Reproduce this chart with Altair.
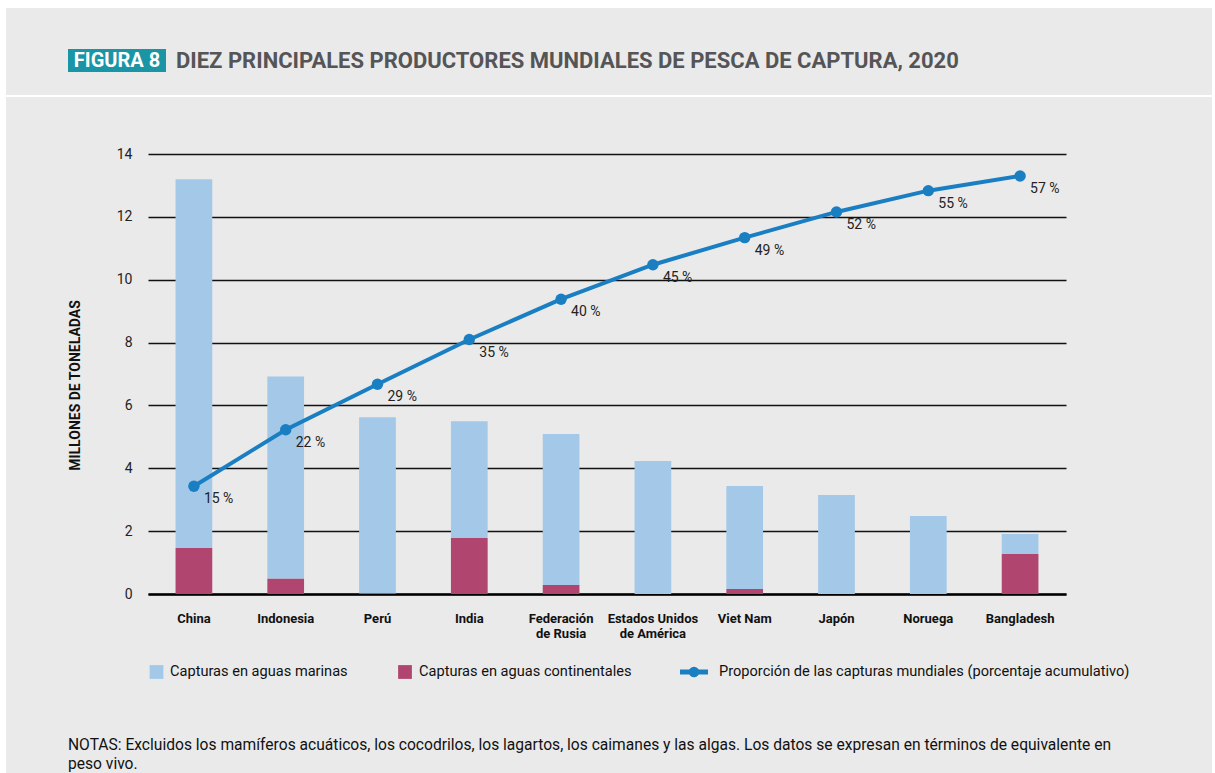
import altair as alt
import pandas as pd

# ---------------- data ----------------
countries = ["China", "Indonesia", "Perú", "India", "Federación de Rusia",
             "Estados Unidos de América", "Viet Nam", "Japón", "Noruega", "Bangladesh"]
marine = [11.74, 6.43, 5.60, 3.72, 4.80, 4.23, 3.28, 3.15, 2.48, 0.64]
inland = [1.46, 0.49, 0.02, 1.78, 0.29, 0.00, 0.16, 0.00, 0.00, 1.27]
share = [14.7, 22.4, 28.6, 34.7, 40.2, 44.9, 48.6, 52.1, 55.0, 57.0]

series_names = ["Capturas en aguas marinas", "Capturas en aguas continentales"]
line_name = "Proporción de las capturas mundiales (porcentaje acumulativo)"
left_ticks = [0, 2, 4, 6, 8, 10, 12, 14]
right_ticks = [0, 10, 20, 30, 40, 50, 60]

title_tag = "FIGURA 8"
title_text = "DIEZ PRINCIPALES PRODUCTORES MUNDIALES DE PESCA DE CAPTURA, 2020"
notes = ["NOTAS: Excluidos los mamíferos acuáticos, los cocodrilos, los lagartos, los caimanes y las algas. Los datos se expresan en términos de equivalente en",
         "peso vivo."]

# ---------------- styles ----------------
FONT = "Roboto"
C_MAR = "#a3c8e8"
C_INL = "#b0466f"
C_LINE = "#1a7fc2"
BG = "#eaeaea"
TEAL = "#1995a5"

rows = []
for c, m, i in zip(countries, marine, inland):
    rows.append({"pais": c, "tipo": series_names[1], "valor": i, "orden": 0})
    rows.append({"pais": c, "tipo": series_names[0], "valor": m, "orden": 1})
df_bars = pd.DataFrame(rows)
df_line = pd.DataFrame({"pais": countries, "pct": share})

one = alt.Data(values=[{"k": 1}])

x_enc = alt.X(
    "pais:N", sort=countries,
    scale=alt.Scale(paddingInner=0.6, paddingOuter=0.3),
    axis=alt.Axis(
        title=None, ticks=False, domain=True, domainColor="black", domainWidth=2.5,
        labelAngle=0, labelFont=FONT, labelFontSize=13, labelFontWeight="bold",
        labelColor="#111", labelPadding=18, labelLineHeight=15, labelLimit=200,
        labelOverlap=False,
        labelExpr="split(replace(datum.label, ' de ', '|de '), '|')",
    ),
)

bars = alt.Chart(df_bars).mark_bar().encode(
    x=x_enc,
    y=alt.Y(
        "valor:Q", stack="zero", scale=alt.Scale(domain=[0, 14]),
        axis=alt.Axis(
            values=left_ticks, grid=True, gridColor="#111", gridWidth=1.4,
            domain=False, ticks=False, labelPadding=16, labelFont=FONT,
            labelFontSize=14, labelColor="#222",
            title="MILLONES DE TONELADAS", titleFont=FONT, titleFontSize=14,
            titleFontWeight="bold", titleColor="#111", titleAngle=270,
            titleX=-73, titleY=231, titleAlign="center", titleBaseline="middle",
        ),
    ),
    color=alt.Color("tipo:N", scale=alt.Scale(domain=series_names, range=[C_MAR, C_INL]), legend=None),
    order=alt.Order("orden:Q", sort="ascending"),
)

y_pct = alt.Y(
    "pct:Q", scale=alt.Scale(domain=[0, 60]),
    axis=alt.Axis(
        orient="right", values=right_ticks, grid=False, domain=False, ticks=False,
        labelPadding=15, labelFont=FONT, labelFontSize=14, labelColor="#222",
        title="PORCENTAJE", titleFont=FONT, titleFontSize=14, titleFontWeight="bold",
        titleColor="#111", titleAngle=270, titleX=77, titleY=229,
        titleAlign="center", titleBaseline="middle",
    ),
)

base_line = alt.Chart(df_line)
line = base_line.mark_line(color=C_LINE, strokeWidth=4).encode(x=x_enc, y=y_pct)
pts = base_line.mark_circle(color=C_LINE, size=130, opacity=1).encode(x=x_enc, y=alt.Y("pct:Q", axis=None))
lbls = base_line.transform_calculate(
    lbl="format(datum.pct, '.0f') + ' %'"
).mark_text(
    font=FONT, fontSize=14, color="#222", align="left", baseline="middle", dx=10, dy=13
).encode(x=x_enc, y=alt.Y("pct:Q", axis=None), text="lbl:N")
line_layer = alt.layer(line, pts, lbls)

# ---------------- frame / title ----------------
def rect(x1, x2, y1, y2, color):
    return alt.Chart(one).mark_rect(color=color).encode(
        x=alt.value(x1), x2=alt.value(x2), y=alt.value(y1), y2=alt.value(y2))

frame = [
    rect(-148, 1067, -154, -146, "white"),
    rect(-148, -142, -154, 619, "white"),
    rect(1064, 1067, -154, 619, "white"),
    rect(-148, 1067, -59, -57, "white"),
    rect(-80, 18, -105, -82, TEAL),
]

tag = alt.Chart(one).mark_text(
    font=FONT, fontSize=20, fontWeight="bold", color="white", align="center", baseline="middle"
).encode(x=alt.value(-31), y=alt.value(-93), text=alt.value(title_tag))
ttl = alt.Chart(one).mark_text(
    font=FONT, fontSize=22, fontWeight="bold", color="#555557", align="left", baseline="middle"
).encode(x=alt.value(28), y=alt.value(-93), text=alt.value(title_text))

# ---------------- legend (manual) ----------------
leg = [
    alt.Chart(one).mark_square(size=190, color=C_MAR, opacity=1).encode(x=alt.value(8.5), y=alt.value(518)),
    alt.Chart(one).mark_square(size=190, color=C_INL, opacity=1).encode(x=alt.value(257), y=alt.value(518)),
    alt.Chart(one).mark_rule(color=C_LINE, strokeWidth=5).encode(
        x=alt.value(532), x2=alt.value(560), y=alt.value(518)),
    alt.Chart(one).mark_circle(size=110, color=C_LINE, opacity=1).encode(x=alt.value(546), y=alt.value(518)),
]
for xpos, txt in [(22, series_names[0]), (271, series_names[1]), (571, line_name)]:
    leg.append(alt.Chart(one).mark_text(
        font=FONT, fontSize=14.6, color="#111", align="left", baseline="middle"
    ).encode(x=alt.value(xpos), y=alt.value(518), text=alt.value(txt)))

note_marks = [
    alt.Chart(one).mark_text(font=FONT, fontSize=15.6, color="#111", align="left", baseline="middle")
    .encode(x=alt.value(-80), y=alt.value(591 + 19 * k), text=alt.value(t))
    for k, t in enumerate(notes)
]

chart = alt.layer(
    *frame, bars, line_layer, tag, ttl, *leg, *note_marks
).resolve_scale(y="independent").properties(
    width=918, height=440,
    autosize=alt.AutoSizeParams(type="none"),
    padding={"left": 148, "top": 154, "right": 149, "bottom": 179},
).configure(background=BG).configure_view(stroke=None)

chart.save("out.html", embed_options={"renderer": "svg", "actions": False})
